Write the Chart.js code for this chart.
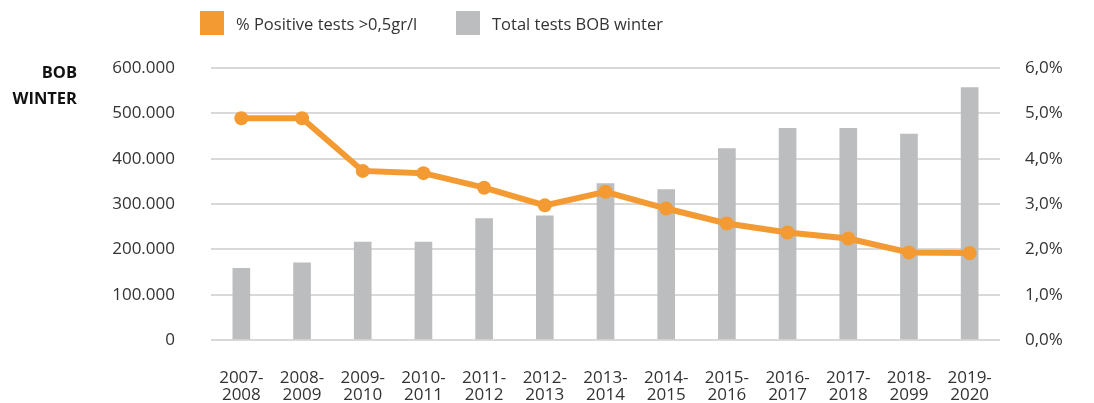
<!DOCTYPE html>
<html>
<head>
<meta charset="utf-8">
<script src="https://cdn.jsdelivr.net/npm/chart.js@4/dist/chart.umd.min.js"></script>
<style>
  html, body { margin: 0; padding: 0; background: #fff; }
  #wrap { position: relative; width: 1094px; height: 403px; font-family: "Open Sans", sans-serif; color: #333; }
  canvas { position: absolute; left: 0; top: 0; }
  .leg { position: absolute; top: 11px; height: 24px; display: flex; align-items: center; font-size: 16.5px; color: #333; }
  .leg span.box { display: inline-block; width: 24px; height: 24px; margin-right: 12px; }
  #ytitle { position: absolute; right: calc(1094px - 77px); top: 59px; text-align: right; font-weight: bold; font-size: 16.5px; line-height: 26px; color: #111; }
</style>
</head>
<body>
<div id="wrap">
  <canvas id="c" width="1094" height="403"></canvas>
  <div class="leg" style="left:200px"><span class="box" style="background:#F39A33"></span>% Positive tests &gt;0,5gr/l</div>
  <div class="leg" style="left:456px"><span class="box" style="background:#BCBDBF"></span>Total tests BOB winter</div>
  <div id="ytitle">BOB<br>WINTER</div>
</div>
<script>
const categories = [
  ["2007-","2008"],["2008-","2009"],["2009-","2010"],["2010-","2011"],["2011-","2012"],
  ["2012-","2013"],["2013-","2014"],["2014-","2015"],["2015-","2016"],["2016-","2017"],
  ["2017-","2018"],["2018-","2099"],["2019-","2020"]
];
const totalTests = [158000, 170000, 216000, 216000, 268000, 274000, 345000, 332000, 422000, 467000, 467000, 454000, 557000];
const positivePct = [4.89, 4.89, 3.73, 3.68, 3.36, 2.97, 3.27, 2.90, 2.57, 2.37, 2.24, 1.93, 1.92];
const leftTicks = [0, 100000, 200000, 300000, 400000, 500000, 600000];
const rightTicks = [0, 1, 2, 3, 4, 5, 6];

const fmtThousands = v => v === 0 ? "0" : String(v).replace(/\B(?=(\d{3})+(?!\d))/g, ".");
const fmtPct = v => v.toFixed(1).replace(".", ",") + "%";
const tickFont = { family: "Open Sans", size: 17 };

new Chart(document.getElementById("c"), {
  data: {
    labels: categories,
    datasets: [
      {
        type: "line", label: "% Positive tests >0,5gr/l", data: positivePct, yAxisID: "y1",
        borderColor: "#F39A33", backgroundColor: "#F39A33", borderWidth: 6,
        pointRadius: 7, pointHoverRadius: 7, pointBackgroundColor: "#F39A33", pointBorderWidth: 0,
        tension: 0, order: 0
      },
      {
        type: "bar", label: "Total tests BOB winter", data: totalTests, yAxisID: "y",
        backgroundColor: "#BCBDBF", barThickness: 17, order: 1
      }
    ]
  },
  options: {
    responsive: false, animation: false,
    layout: { padding: { top: 68, left: 0, right: 0, bottom: 0 } },
    plugins: { legend: { display: false }, tooltip: { enabled: false } },
    scales: {
      x: {
        grid: { display: false }, border: { display: false },
        ticks: { color: "#333", font: { family: "Open Sans", size: 17, lineHeight: 1.0 }, padding: 22, maxRotation: 0, autoSkip: false },
        afterFit: s => { s.height = 63; }
      },
      y: {
        position: "left", min: 0, max: 600000,
        afterBuildTicks: s => { s.ticks = leftTicks.map(v => ({ value: v })); },
        grid: { color: "#D9D9D9", lineWidth: 2, drawTicks: false }, border: { display: false },
        ticks: { color: "#333", font: tickFont, padding: 36, callback: v => fmtThousands(v) },
        afterFit: s => { s.width = 211; }
      },
      y1: {
        position: "right", min: 0, max: 6,
        afterBuildTicks: s => { s.ticks = rightTicks.map(v => ({ value: v })); },
        grid: { display: false, drawTicks: false }, border: { display: false },
        ticks: { color: "#333", font: tickFont, padding: 25, callback: v => fmtPct(v) },
        afterFit: s => { s.width = 94; }
      }
    }
  }
});
</script>
</body>
</html>
